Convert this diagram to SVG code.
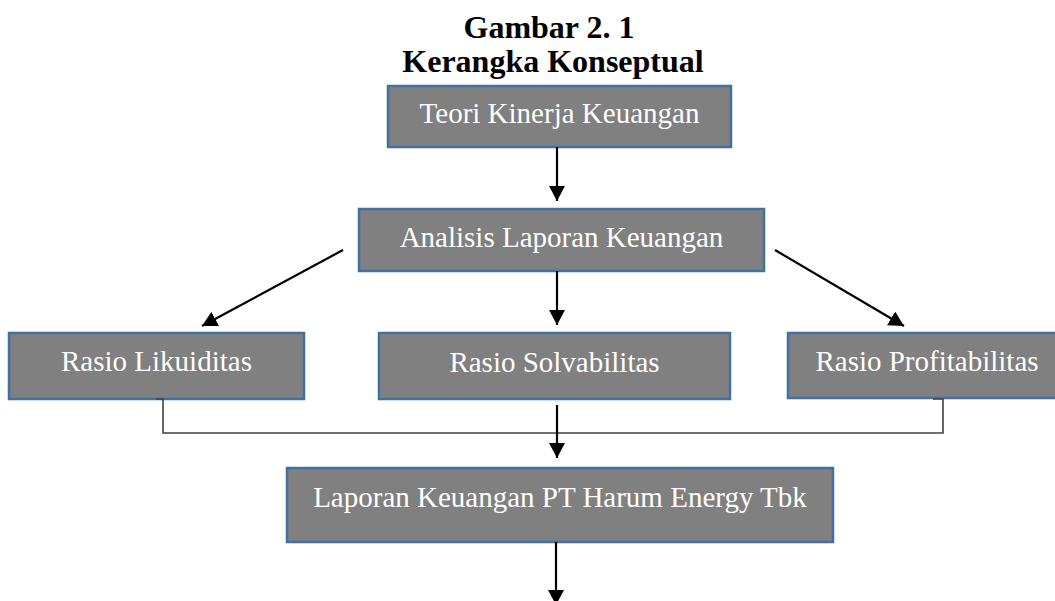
<svg xmlns="http://www.w3.org/2000/svg" width="1055" height="601" viewBox="0 0 1055 601">
<style>
.title{font-family:"Liberation Serif","Times New Roman",serif;font-weight:bold;font-size:32px;fill:#000;text-anchor:middle}
.box{fill:#808080;stroke:#41719C;stroke-width:2.5}
.lbl{font-family:"Liberation Serif","Times New Roman",serif;font-size:29px;fill:#fff;text-anchor:middle}
.arr{stroke:#000;stroke-width:2.2;fill:none;marker-end:url(#ah)}
.brk{stroke:#404040;stroke-width:1.6;fill:none}
</style>
<defs>
<marker id="ah" viewBox="0 0 15 16" refX="15" refY="8" markerWidth="15" markerHeight="16" markerUnits="userSpaceOnUse" orient="auto">
<path d="M0,0 L15,8 L0,16 Z" fill="#000"/>
</marker>
</defs>
<rect width="1055" height="601" fill="#fff"/>
<g id="title">
<text class="title" x="549" y="38">Gambar 2. 1</text>
<text class="title" x="553" y="72">Kerangka Konseptual</text>
</g>
<g id="n-teori">
<rect class="box" x="388" y="86" width="343" height="61"/>
<text class="lbl" x="559.5" y="123">Teori Kinerja Keuangan</text>
</g>
<g id="n-analisis">
<rect class="box" x="359" y="209" width="405" height="62"/>
<text class="lbl" x="561.5" y="247">Analisis Laporan Keuangan</text>
</g>
<g id="n-likuiditas">
<rect class="box" x="9" y="333" width="295" height="66"/>
<text class="lbl" x="156.5" y="371">Rasio Likuiditas</text>
</g>
<g id="n-solvabilitas">
<rect class="box" x="379" y="333" width="351" height="66"/>
<text class="lbl" x="554.5" y="372">Rasio Solvabilitas</text>
</g>
<g id="n-profitabilitas">
<rect class="box" x="788" y="333" width="280" height="65"/>
<text class="lbl" x="927" y="371">Rasio Profitabilitas</text>
</g>
<g id="n-laporan">
<rect class="box" x="287" y="468" width="546" height="74"/>
<text class="lbl" x="560" y="507">Laporan Keuangan PT Harum Energy Tbk</text>
</g>
<g id="connectors">
<line class="arr" x1="557" y1="147" x2="557" y2="201"/>
<line class="arr" x1="557" y1="271" x2="557" y2="325"/>
<line class="arr" x1="343" y1="250" x2="202" y2="326"/>
<line class="arr" x1="775" y1="250" x2="904" y2="326"/>
<polyline class="brk" points="156,399 163,399 163,433 943,433 943,399 933,399"/>
<line class="arr" x1="557" y1="405" x2="557" y2="458"/>
<line class="arr" x1="556" y1="542" x2="556" y2="605"/>
</g>
</svg>
